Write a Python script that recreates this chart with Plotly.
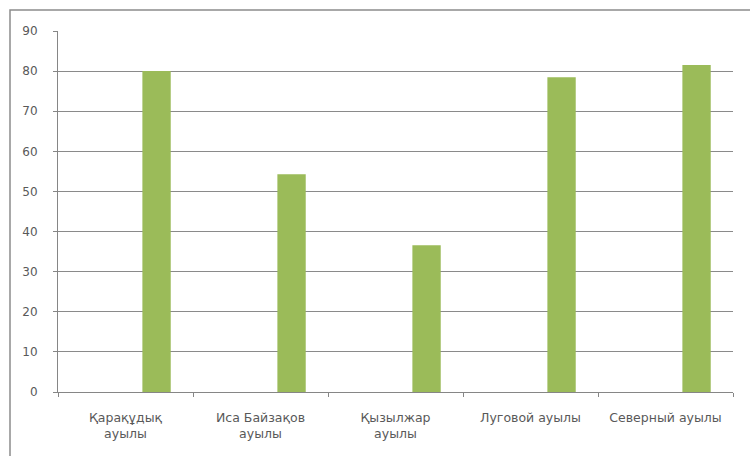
import plotly.graph_objects as go

categories = ["Қарақұдық<br>ауылы", "Иса Байзақов<br>ауылы", "Қызылжар<br>ауылы",
              "Луговой ауылы", "Северный ауылы"]
values = [80, 54.3, 36.6, 78.5, 81.5]
y_ticks = [0, 10, 20, 30, 40, 50, 60, 70, 80, 90]

fig = go.Figure()
fig.add_trace(go.Bar(
    x=categories, y=values,
    marker=dict(color="#9BBB59", line=dict(width=0)),
    width=0.21, offset=0.125,
    showlegend=False, hoverinfo="x+y",
))

fig.update_layout(
    width=750, height=456,
    margin=dict(l=58, r=17, t=31, b=64),
    paper_bgcolor="white", plot_bgcolor="white",
    font=dict(family="DejaVu Sans, Arial, sans-serif", size=12, color="#595959"),
    xaxis=dict(
        type="category", showgrid=False,
        showline=True, linecolor="#868686", linewidth=1,
        ticks="outside", tickson="boundaries", ticklen=4, tickcolor="#868686",
        tickfont=dict(size=12.5, color="#595959"),
        ticklabelstandoff=14,
        range=[-0.5, 4.5],
    ),
    yaxis=dict(
        range=[0, 90], tickvals=y_ticks,
        showgrid=True, gridcolor="#8A8A8A", gridwidth=1,
        showline=True, linecolor="#868686", linewidth=1,
        ticks="outside", ticklen=4, tickcolor="#868686",
        tickfont=dict(size=12, color="#595959"),
        ticklabelstandoff=13,
        zeroline=False,
    ),
    shapes=[dict(type="rect", xref="paper", yref="paper",
                 x0=-48/675, x1=1.2, y0=-0.5, y1=1 + 21/361,
                 line=dict(color="#8C8C8C", width=1.5), fillcolor="rgba(0,0,0,0)",
                 layer="below")],
)

fig.write_html("out.html")
